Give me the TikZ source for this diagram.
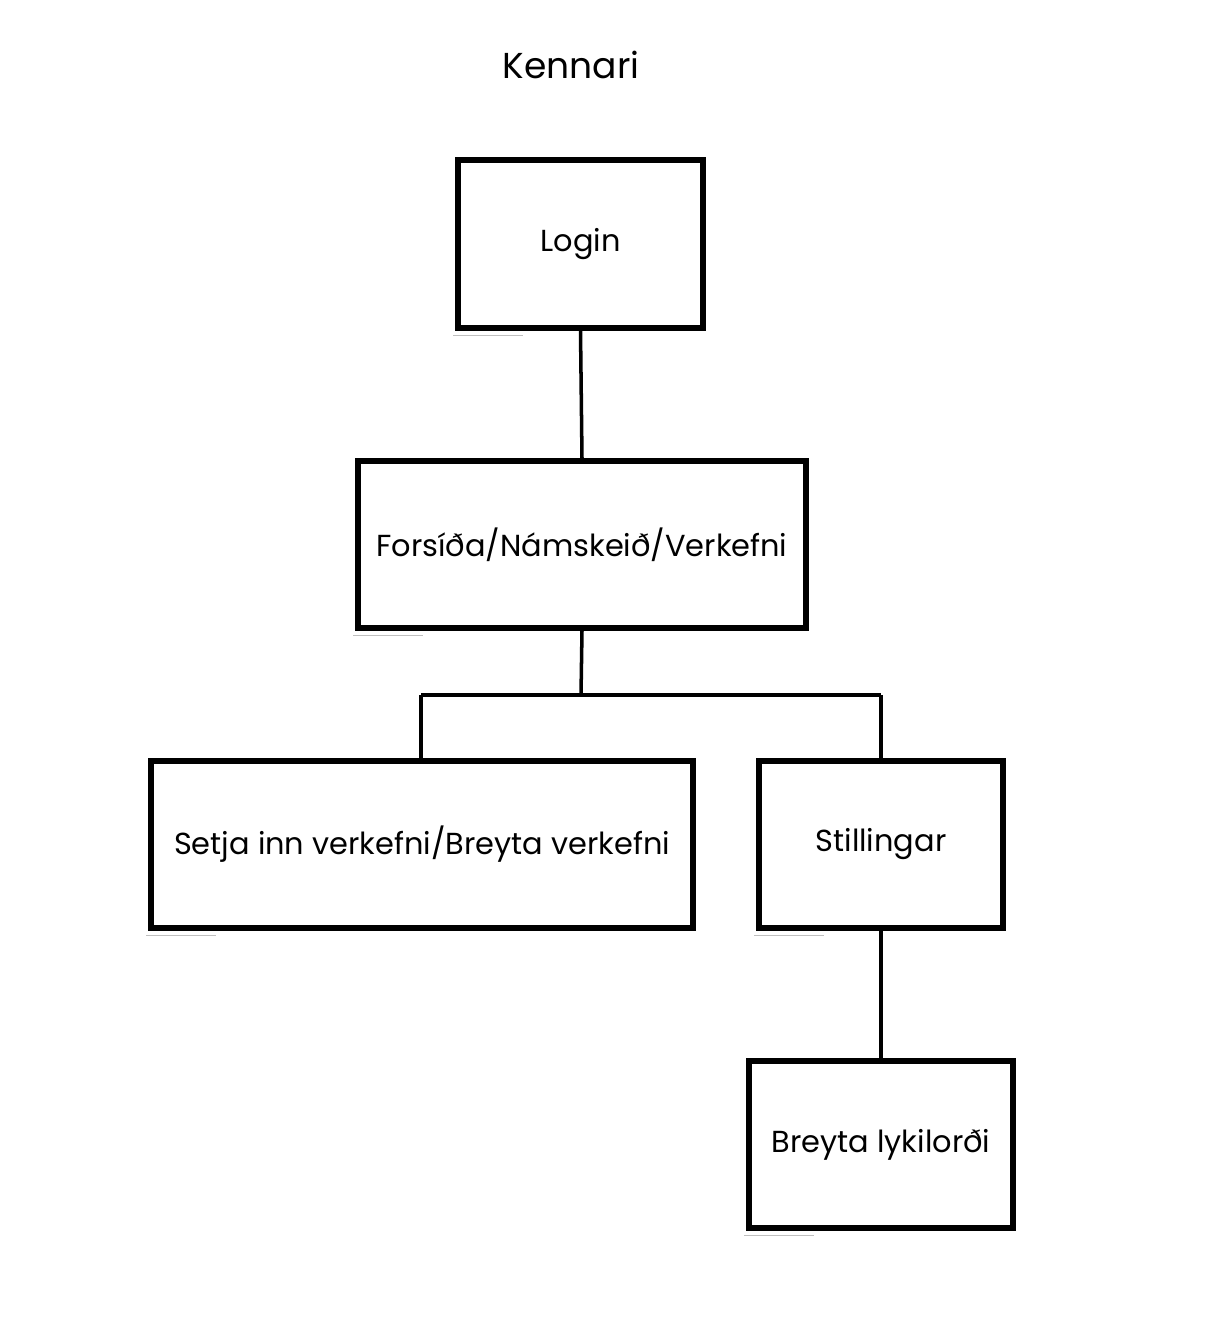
\documentclass[tikz,border=0pt]{standalone}
\usepackage{fontspec}
\setmainfont{Poppins}
\begin{document}
\begin{tikzpicture}[x=0.02cm,y=-0.02cm,
  every node/.style={font=\fontsize{17.3}{20}\selectfont},
  boxnode/.style={draw, line width=3pt, inner sep=0pt, line join=miter},
  link/.style={line width=2pt},
  shadowline/.style={draw=black!25, line width=0.8pt}]
  \useasboundingbox[fill=white] (0,0) rectangle (1227,1343);

  % title
  \node[font=\fontsize{20.5}{24}\selectfont] (title) at (571,65) {Kennari};

  % boxes
  \node[boxnode, minimum width=4.9cm,  minimum height=3.36cm] (login) at (580.5,244) {Login};
  \node[boxnode, minimum width=8.96cm, minimum height=3.34cm] (home)  at (582,544.5) {Forsíða/Námskeið/Verkefni};
  \node[boxnode, minimum width=10.84cm,minimum height=3.34cm] (task)  at (422,844.5) {Setja inn verkefni/Breyta verkefni};
  \node[boxnode, minimum width=4.88cm, minimum height=3.34cm] (sett)  at (881,844.5) {Stillingar};
  \node[boxnode, minimum width=5.28cm, minimum height=3.34cm] (pwd)   at (881,1144.5) {Breyta lykilorði};

  % faint under-strokes along the bottom edges
  \foreach \n in {login,home,task,sett,pwd}
    \draw[shadowline] ([xshift=-0.04cm,yshift=-0.1cm]\n.south west) -- ++(1.4cm,0);

  % connectors
  \coordinate (split) at (581,695);
  \coordinate (splitL) at (421,695);
  \coordinate (splitR) at (881,695);
  \draw[link] (login.south) -- (home.north);
  \draw[link] (home.south) -- (split);
  \draw[link] (splitL) -- (splitR);
  \draw[link] (splitL) -- (splitL |- task.north);
  \draw[link] (splitR) -- (sett.north);
  \draw[link] (sett.south) -- (pwd.north);
\end{tikzpicture}
\end{document}
